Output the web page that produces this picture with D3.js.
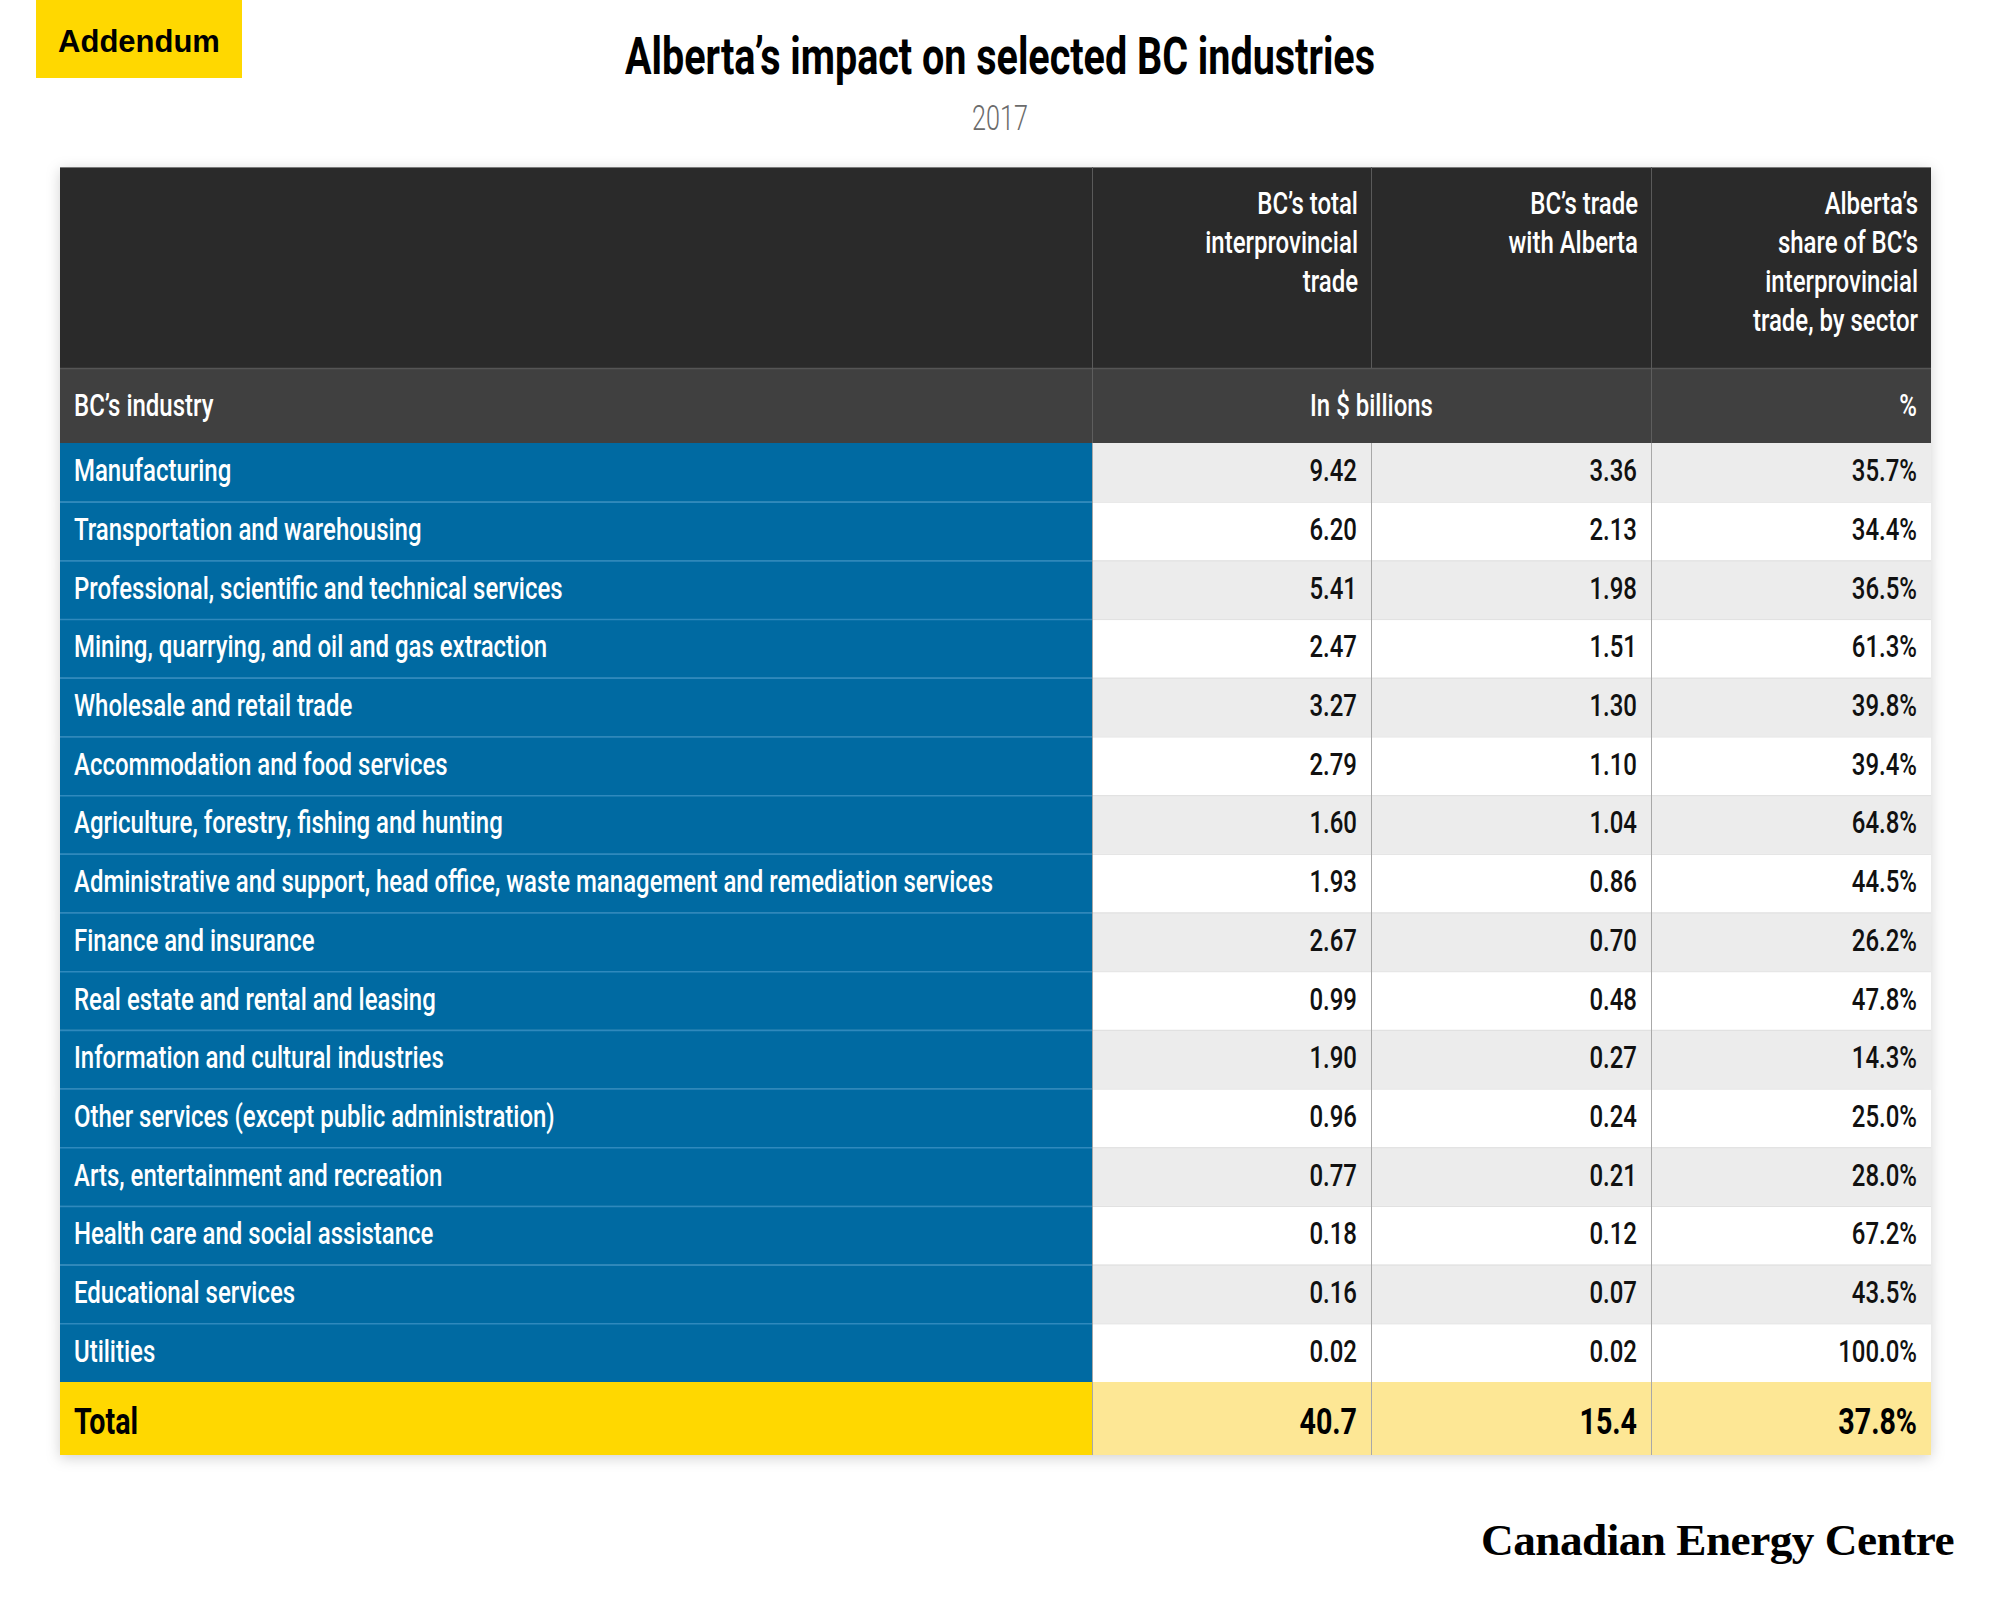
<!DOCTYPE html>
<html>
<head>
<meta charset="utf-8">
<script src="https://cdn.jsdelivr.net/npm/d3@7"></script>
<style>
  body { margin: 0; background: #fff; }
</style>
</head>
<body>
<svg></svg>
<script>
// rows, top to bottom
var industries = [
    "Manufacturing",
    "Transportation and warehousing",
    "Professional, scientific and technical services",
    "Mining, quarrying, and oil and gas extraction",
    "Wholesale and retail trade",
    "Accommodation and food services",
    "Agriculture, forestry, fishing and hunting",
    "Administrative and support, head office, waste management and remediation services",
    "Finance and insurance",
    "Real estate and rental and leasing",
    "Information and cultural industries",
    "Other services (except public administration)",
    "Arts, entertainment and recreation",
    "Health care and social assistance",
    "Educational services",
    "Utilities"
];
var totalTrade = [9.42, 6.20, 5.41, 2.47, 3.27, 2.79, 1.60, 1.93, 2.67, 0.99, 1.90, 0.96, 0.77, 0.18, 0.16, 0.02];
var tradeWithAlberta = [3.36, 2.13, 1.98, 1.51, 1.30, 1.10, 1.04, 0.86, 0.70, 0.48, 0.27, 0.24, 0.21, 0.12, 0.07, 0.02];
var albertaShare = [35.7, 34.4, 36.5, 61.3, 39.8, 39.4, 64.8, 44.5, 26.2, 47.8, 14.3, 25.0, 28.0, 67.2, 43.5, 100.0];
var totals = [40.7, 15.4, 37.8];

var columnHeaders = [
    ["BC\u2019s total", "interprovincial", "trade"],
    ["BC\u2019s trade", "with Alberta"],
    ["Alberta\u2019s", "share of BC\u2019s", "interprovincial", "trade, by sector"]
];

var svgWidth = 2000, svgHeight = 1600;
var colEdges = [60, 1092, 1371, 1651, 1931];
var headerTop = 167, subTop = 368, bodyTop = 443, totalTop = 1382, tableBottom = 1455;
var font = "Roboto, 'Liberation Sans', sans-serif";

var fmt2 = d3.format(".2f"), fmt1 = d3.format(".1f");

var svg = d3.select("svg")
    .attr("width", svgWidth)
    .attr("height", svgHeight);

// squeeze text horizontally to get the condensed look of the original face
function squeeze(sel, k) {
    sel.each(function () {
        var w = this.getComputedTextLength();
        d3.select(this).attr("textLength", w * k).attr("lengthAdjust", "spacingAndGlyphs");
    });
}

// work out the condense factor from the longest label's width in the reference
var probe = svg.append("text").style("font-family", font).style("font-size", "31px").style("font-weight", 500)
    .text(industries[7]);
var kBody = 919 / probe.node().getComputedTextLength();
probe.remove();

var defs = svg.append("defs");
defs.append("filter").attr("id", "shadow")
    .attr("x", "-5%").attr("y", "-5%").attr("width", "110%").attr("height", "110%")
    .append("feDropShadow")
    .attr("dx", 0).attr("dy", 3).attr("stdDeviation", 7)
    .attr("flood-color", "#000").attr("flood-opacity", 0.18);

// Addendum tag
svg.append("rect").attr("x", 36).attr("y", 0).attr("width", 206).attr("height", 78).attr("fill", "#ffd800");
svg.append("text").attr("x", 139).attr("y", 52)
    .attr("text-anchor", "middle")
    .style("font-family", "'Liberation Sans', Arial, sans-serif")
    .style("font-weight", 700).style("font-size", "31px")
    .text("Addendum");

// title and year
var title = svg.append("text").attr("x", 1000).attr("y", 74).attr("text-anchor", "middle")
    .style("font-family", font).style("font-weight", 700).style("font-size", "52px").attr("fill", "#000")
    .text("Alberta\u2019s impact on selected BC industries");
title.attr("textLength", 750).attr("lengthAdjust", "spacingAndGlyphs");

var year = svg.append("text").attr("x", 1000).attr("y", 130).attr("text-anchor", "middle")
    .style("font-family", font).style("font-weight", 300).style("font-size", "35px").attr("fill", "#6b6b6b")
    .text("2017");
squeeze(year, 0.72);

// table
var y = d3.scaleBand().domain(industries).range([bodyTop, totalTop]);
var table = svg.append("g").attr("filter", "url(#shadow)");

table.append("rect").attr("x", colEdges[0]).attr("y", headerTop)
    .attr("width", colEdges[4] - colEdges[0]).attr("height", subTop - headerTop).attr("fill", "#2a2a2a");
table.append("rect").attr("x", colEdges[0]).attr("y", subTop)
    .attr("width", colEdges[4] - colEdges[0]).attr("height", bodyTop - subTop).attr("fill", "#414141");

var rows = table.selectAll("g.row")
    .data(industries)
    .enter().append("g").attr("class", "row");

rows.append("rect").attr("x", colEdges[0]).attr("y", function (d) { return y(d); })
    .attr("width", colEdges[1] - colEdges[0]).attr("height", y.bandwidth()).attr("fill", "#026ba2");
rows.append("rect").attr("x", colEdges[1]).attr("y", function (d) { return y(d); })
    .attr("width", colEdges[4] - colEdges[1]).attr("height", y.bandwidth())
    .attr("fill", function (d, i) { return i % 2 === 0 ? "#ececec" : "#ffffff"; });

// total row
table.append("rect").attr("x", colEdges[0]).attr("y", totalTop)
    .attr("width", colEdges[1] - colEdges[0]).attr("height", tableBottom - totalTop).attr("fill", "#ffd800");
table.append("rect").attr("x", colEdges[1]).attr("y", totalTop)
    .attr("width", colEdges[4] - colEdges[1]).attr("height", tableBottom - totalTop).attr("fill", "#fde795");

var lines = svg.append("g");
// row separators
lines.selectAll("line.rowsepL")
    .data(industries.slice(1))
    .enter().append("line")
    .attr("x1", colEdges[0]).attr("x2", colEdges[1])
    .attr("y1", function (d) { return y(d) + 0.5; }).attr("y2", function (d) { return y(d) + 0.5; })
    .attr("stroke", "#2f89bd").attr("stroke-width", 1.5);
lines.selectAll("line.rowsepR")
    .data(industries.slice(1))
    .enter().append("line")
    .attr("x1", colEdges[1]).attr("x2", colEdges[4])
    .attr("y1", function (d) { return y(d) + 0.5; }).attr("y2", function (d) { return y(d) + 0.5; })
    .attr("stroke", "#e0e0e0").attr("stroke-width", 1);
lines.append("line").attr("x1", colEdges[0]).attr("x2", colEdges[4])
    .attr("y1", subTop + 0.5).attr("y2", subTop + 0.5).attr("stroke", "#555").attr("stroke-width", 1.5);
lines.append("line").attr("x1", colEdges[0]).attr("x2", colEdges[4])
    .attr("y1", headerTop + 0.5).attr("y2", headerTop + 0.5).attr("stroke", "#7a7a7a").attr("stroke-width", 1);

// column separators
[1, 2, 3].forEach(function (c) {
    lines.append("line").attr("x1", colEdges[c] + 0.5).attr("x2", colEdges[c] + 0.5)
        .attr("y1", headerTop).attr("y2", subTop).attr("stroke", "#5a5a5a");
    if (c !== 2) {
        lines.append("line").attr("x1", colEdges[c] + 0.5).attr("x2", colEdges[c] + 0.5)
            .attr("y1", subTop).attr("y2", bodyTop).attr("stroke", "#5e5e5e");
    }
    lines.append("line").attr("x1", colEdges[c] + 0.5).attr("x2", colEdges[c] + 0.5)
        .attr("y1", bodyTop).attr("y2", tableBottom).attr("stroke", "#a8a8a8");
});

// header text
var textG = svg.append("g").style("font-family", font);
columnHeaders.forEach(function (lns, c) {
    textG.selectAll(null)
        .data(lns)
        .enter().append("text")
        .attr("x", colEdges[c + 2] - 13)
        .attr("y", function (d, i) { return 214 + i * 39; })
        .attr("text-anchor", "end")
        .attr("fill", "#fff")
        .style("font-size", "31px").style("font-weight", 500)
        .text(function (d) { return d; })
        .call(squeeze, kBody);
});

textG.append("text").attr("x", 74).attr("y", 416).attr("fill", "#fff")
    .style("font-size", "31px").style("font-weight", 500).text("BC\u2019s industry").call(squeeze, kBody);
textG.append("text").attr("x", (colEdges[1] + colEdges[3]) / 2).attr("y", 416).attr("text-anchor", "middle").attr("fill", "#fff")
    .style("font-size", "31px").style("font-weight", 500).text("In $ billions").call(squeeze, kBody);
textG.append("text").attr("x", colEdges[4] - 14).attr("y", 416).attr("text-anchor", "end").attr("fill", "#fff")
    .style("font-size", "31px").style("font-weight", 500).text("%").call(squeeze, kBody);

// body text
var baseY = function (d) { return y(d) + y.bandwidth() / 2 + 9; };
textG.selectAll("text.label")
    .data(industries)
    .enter().append("text")
    .attr("x", 74).attr("y", baseY).attr("fill", "#fff")
    .style("font-size", "31px").style("font-weight", 500)
    .text(function (d) { return d; })
    .call(squeeze, kBody);

var cols = [
    { values: totalTrade, f: fmt2, suffix: "" },
    { values: tradeWithAlberta, f: fmt2, suffix: "" },
    { values: albertaShare, f: fmt1, suffix: "%" }
];
cols.forEach(function (col, c) {
    textG.selectAll(null)
        .data(industries)
        .enter().append("text")
        .attr("x", colEdges[c + 2] - 14).attr("y", baseY)
        .attr("text-anchor", "end").attr("fill", "#111")
        .style("font-size", "31px").style("font-weight", 500)
        .text(function (d, i) { return col.f(col.values[i]) + col.suffix; })
        .call(squeeze, kBody);
});

// total row text
textG.append("text").attr("x", 74).attr("y", 1434).attr("fill", "#000")
    .style("font-size", "37px").style("font-weight", 700).text("Total").call(squeeze, kBody);
textG.selectAll(null)
    .data(totals)
    .enter().append("text")
    .attr("x", function (d, i) { return colEdges[i + 2] - 14; }).attr("y", 1434)
    .attr("text-anchor", "end").attr("fill", "#000")
    .style("font-size", "37px").style("font-weight", 700)
    .text(function (d, i) { return fmt1(d) + (i === 2 ? "%" : ""); })
    .call(squeeze, kBody);

// logo wordmark
var logo = svg.append("text").attr("x", 1954).attr("y", 1555).attr("text-anchor", "end")
    .style("font-family", "'Liberation Serif', 'DejaVu Serif', serif")
    .style("font-weight", 700).style("font-size", "44px").attr("fill", "#000")
    .style("letter-spacing", "-0.5px")
    .text("Canadian Energy Centre");
squeeze(logo, 473 / logo.node().getComputedTextLength());
</script>
</body>
</html>
